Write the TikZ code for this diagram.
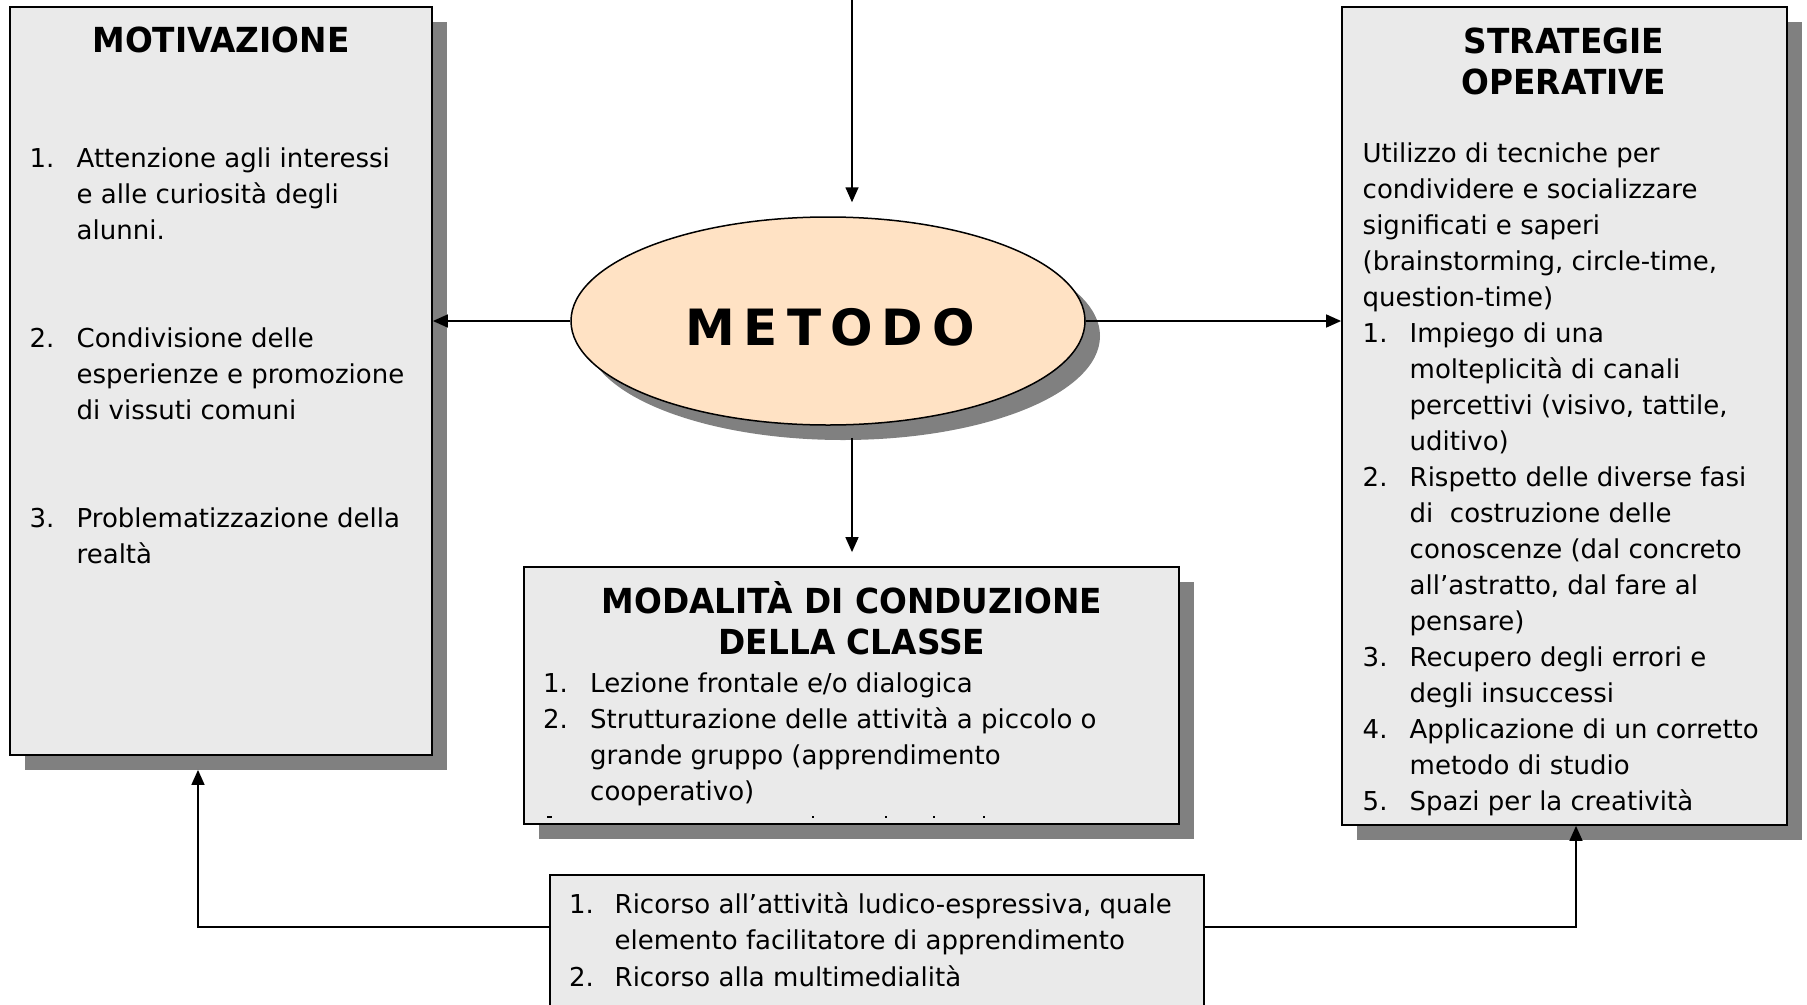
\documentclass[tikz,border=0pt]{standalone}
\usepackage{fontspec}
\setmainfont{DejaVu Sans}
\newfontfamily\tfont{DejaVu Sans Bold}[FakeStretch=0.95]
\newfontfamily\mfont{DejaVu Sans Bold}
\usetikzlibrary{shapes.geometric,shadows,arrows.meta}
\definecolor{boxgray}{RGB}{234,234,234}
\definecolor{shadowgray}{RGB}{128,128,128}
\definecolor{peach}{RGB}{255,226,196}
\newcommand\nb[2][47pt]{\makebox[#1][l]{#2}}
\newcommand\indt[1][47pt]{\hspace*{#1}}
\newcommand\lsp{\hspace{9pt}}
\tikzset{
  panel/.style={rectangle, draw=black, line width=1.8pt, fill=boxgray, inner sep=0pt},
  shad/.style={drop shadow={shadow xshift=15pt, shadow yshift=-15pt, fill=shadowgray, opacity=1}},
  arr/.style={line width=1.6pt, -{Triangle[length=15pt,width=13pt]}},
  ttl/.style={inner sep=0pt, anchor=base, font=\tfont\fontsize{34.5}{41}\selectfont},
  body/.style={inner sep=0pt, anchor=base west, font=\fontsize{26}{36}\selectfont},
  tickmark/.style={fill=black}
}
\begin{document}
\begin{tikzpicture}[x=1pt,y=-1pt]
\path[use as bounding box] (0,0) rectangle (1807,1004);
\clip (0,0) rectangle (1807,1004);

% boxes
\node[panel, shad, minimum width=422pt, minimum height=748pt] (motiv) at (221,381) {};
\node[panel, shad, minimum width=445pt, minimum height=818pt] (strat) at (1564.5,416) {};
\node[panel, shad, minimum width=655pt, minimum height=257pt] (modal) at (851.5,695.5) {};
\node[panel, minimum width=654pt, minimum height=150pt] (risorse) at (877,950) {};
\node[ellipse, draw=black, line width=1.5pt, fill=peach, shad, minimum width=514pt, minimum height=208pt, inner sep=0pt] (metodo) at (828,321) {};

% METODO label
\node[inner sep=0pt, anchor=base, font=\mfont\fontsize{50}{60}\selectfont] (metodotxt) at (830,345) {M\lsp E\lsp T\lsp O\lsp D\lsp O};

% MOTIVAZIONE
\node[ttl] (motivttl) at (221,52) {MOTIVAZIONE};
\node[body] (motivlist) at (29.5,167) {\begin{tabular}[t]{@{}l@{}}
\nb{1.}Attenzione agli interessi\\
\indt e alle curiosità degli\\
\indt alunni.\\
\\
\\
\nb{2.}Condivisione delle\\
\indt esperienze e promozione\\
\indt di vissuti comuni\\
\\
\\
\nb{3.}Problematizzazione della\\
\indt realtà
\end{tabular}};

% STRATEGIE OPERATIVE
\node[ttl] (stratttl) at (1564,53) {\begin{tabular}[t]{@{}c@{}}STRATEGIE\\OPERATIVE\end{tabular}};
\node[body] (stratlist) at (1362.5,162) {\begin{tabular}[t]{@{}l@{}}
Utilizzo di tecniche per\\
condividere e socializzare\\
significati e saperi\\
(brainstorming, circle-time,\\
question-time)\\
\nb{1.}Impiego di una\\
\indt molteplicità di canali\\
\indt percettivi (visivo, tattile,\\
\indt uditivo)\\
\nb{2.}Rispetto delle diverse fasi\\
\indt di\ \ costruzione delle\\
\indt conoscenze (dal concreto\\
\indt all’astratto, dal fare al\\
\indt pensare)\\
\nb{3.}Recupero degli errori e\\
\indt degli insuccessi\\
\nb{4.}Applicazione di un corretto\\
\indt metodo di studio\\
\nb{5.}Spazi per la creatività
\end{tabular}};

% MODALITA
\node[ttl] (modalttl) at (852,613) {\begin{tabular}[t]{@{}c@{}}MODALITÀ DI CONDUZIONE\\DELLA CLASSE\end{tabular}};
\node[body] (modallist) at (543,692) {\begin{tabular}[t]{@{}l@{}}
\nb{1.}Lezione frontale e/o dialogica\\
\nb{2.}Strutturazione delle attività a piccolo o\\
\indt grande gruppo (apprendimento\\
\indt cooperativo)
\end{tabular}};
% clipped tops of the next (hidden) line
\fill[tickmark] (547,815.5) rectangle (552,818);
\fill[tickmark] (811.5,815.5) rectangle (813.5,818);
\fill[tickmark] (884.5,815.5) rectangle (886.5,818);
\fill[tickmark] (932.5,815.5) rectangle (934.5,818);
\fill[tickmark] (982.5,815.5) rectangle (984.5,818);

% bottom box
\node[body, font=\fontsize{26}{36.5}\selectfont] (risorselist) at (569,913) {\begin{tabular}[t]{@{}l@{}}
\nb[45.5pt]{1.}Ricorso all’attività ludico-espressiva, quale\\
\indt[45.5pt]elemento facilitatore di apprendimento\\
\nb[45.5pt]{2.}Ricorso alla multimedialità
\end{tabular}};

% connectors
\coordinate (topin) at (852,0);
\draw[arr] (topin) -- ([yshift=14pt]metodo.north -| topin);
\draw[arr] ([yshift=-12pt]metodo.south -| topin) -- ([yshift=14pt]modal.north -| topin);
\draw[arr] (metodo.west) -- (motiv.east |- metodo.west);
\draw[arr] (metodo.east) -- (strat.west |- metodo.east);
\draw[arr] ([yshift=-53pt]risorse.north west) -| ([xshift=-23pt,yshift=-14pt]motiv.south);
\draw[arr] ([yshift=-53pt]risorse.north east) -| ([xshift=11.5pt]strat.south);
\end{tikzpicture}
\end{document}
